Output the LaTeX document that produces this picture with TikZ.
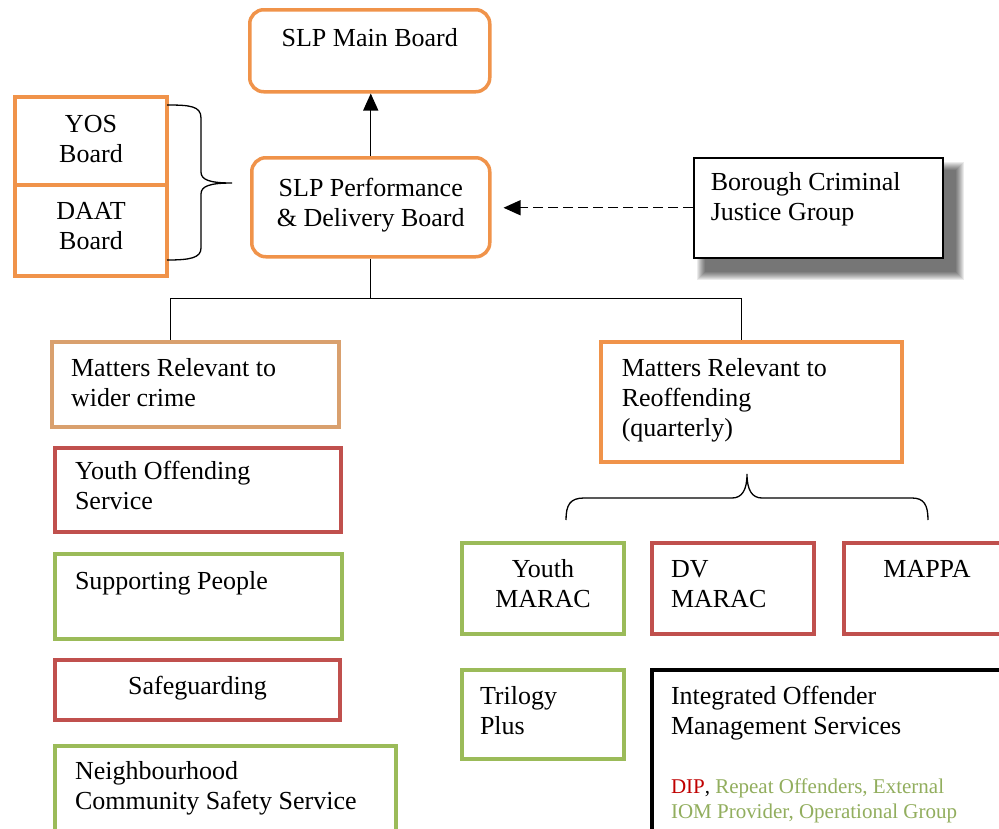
\documentclass[tikz,border=0pt]{standalone}
\usepackage{fontspec}
\setmainfont{Liberation Serif}
\usetikzlibrary{arrows.meta,backgrounds}

\definecolor{slporange}{HTML}{F0934A}
\definecolor{widertan}{HTML}{D9A06E}
\definecolor{unitred}{HTML}{C0504D}
\definecolor{unitgreen}{HTML}{9BBB59}
\definecolor{dipred}{HTML}{C00000}
\definecolor{iomgreen}{HTML}{92AE5E}

% top aligned text inside a box of fixed size
\newcommand{\boxtext}[3]{\parbox[t][#2pt][t]{#1pt}{#3}}

\begin{document}
\begin{tikzpicture}[x=1pt, y=-1pt,
  every node/.style={font=\fontsize{26}{30}\selectfont, anchor=north west},
  board/.style={draw=slporange, line width=3.5pt, rounded corners=14pt, fill=white, inner xsep=10pt},
  unit/.style={draw=#1, line width=4pt, fill=white},
  link/.style={line width=1.3pt},
  arrowtip/.style={-{Triangle[length=17pt,width=15pt]}}]

  \useasboundingbox (0,0) rectangle (999,828);
  \clip (0,0) rectangle (999,828);

  % SLP boards
  \node[board, inner ysep=16pt] (main) at (248,8) {\boxtext{220}{50}{\centering\strut SLP Main Board}};
  \node[board, inner ysep=18pt] (pdb) at (250,156) {\boxtext{218}{63}{\centering\strut SLP Performance\\ \& Delivery Board}};

  % Feeding boards
  \node[unit=slporange, inner xsep=10pt, inner ysep=14pt] (yos) at (13,95) {\boxtext{132}{60}{\centering\strut YOS\\Board}};
  \node[unit=slporange, inner xsep=10pt, inner ysep=13pt] (daat) at (13,183) {\boxtext{132}{65}{\centering\strut DAAT\\Board}};

  \node[draw=black, line width=1.5pt, fill=white, inner xsep=17pt, inner ysep=12pt] (bcjg) at (693,157)
    {\boxtext{215}{76}{\raggedright\strut Borough Criminal\\Justice Group}};

  % Wider crime column
  \node[unit=widertan, inner xsep=19pt, inner ysep=13pt] (mrc) at (50,340) {\boxtext{249}{59}{\raggedright\strut Matters Relevant to\\wider crime}};
  \node[unit=unitred, inner xsep=20pt, inner ysep=10pt] (yosvc) at (53,446) {\boxtext{246}{64}{\raggedright\strut Youth Offending\\Service}};
  \node[unit=unitgreen, inner xsep=20pt, inner ysep=14pt] (supp) at (53,552) {\boxtext{247}{57}{\raggedright\strut Supporting People}};
  \node[unit=unitred, inner xsep=10pt, inner ysep=13pt] (safe) at (53,658) {\boxtext{265}{34}{\centering\strut Safeguarding}};
  \node[unit=unitgreen, inner xsep=20pt, inner ysep=12pt] (nbh) at (53,744) {\boxtext{301}{76}{\raggedright\strut Neighbourhood\\Community Safety Service}};

  % Reoffending column
  \node[unit=slporange, line width=3.5pt, inner xsep=21pt, inner ysep=14pt] (mrr) at (599,340) {\boxtext{259}{92}{\raggedright\strut Matters Relevant to\\Reoffending\\(quarterly)}};
  \node[unit=unitgreen, inner xsep=10pt, inner ysep=13pt] (ymarac) at (460,541) {\boxtext{142}{65}{\centering\strut Youth\\MARAC}};
  \node[unit=unitred, inner xsep=19pt, inner ysep=13pt] (dvmarac) at (650,541) {\boxtext{124}{65}{\raggedright\strut DV\\MARAC}};
  \node[unit=unitred, inner xsep=10pt, inner ysep=13pt] (mappa) at (842,541) {\boxtext{146}{65}{\centering\strut MAPPA}};
  \node[unit=unitgreen, inner xsep=18pt, inner ysep=13pt] (trilogy) at (460,668) {\boxtext{126}{63}{\raggedright\strut Trilogy\\Plus}};
  \node[unit=black, inner xsep=19pt, inner ysep=13pt] (iom) at (650,668)
    {\boxtext{320}{146}{\raggedright\strut Integrated Offender\\Management Services\par\vspace{34pt}
     \fontsize{21}{25}\selectfont\textcolor{dipred}{DIP}, \textcolor{iomgreen}{Repeat Offenders, External\\IOM Provider, Operational Group}}};

  % Soft shadow behind the Borough group
  \begin{pgfonlayer}{background}
    \fill[white] (0,0) rectangle (999,828);
    \foreach \i in {0,...,8}
      \fill[black, opacity=0.08] ([shift={(4+\i,5+\i)}]bcjg.north west) rectangle ([shift={(20-\i,21-\i)}]bcjg.south east);
  \end{pgfonlayer}

  % Connectors
  \draw[link, arrowtip] (pdb.north) -- (pdb.north |- main.south);
  \draw[link, arrowtip, dash pattern=on 10pt off 5pt] (bcjg.west) -- ([xshift=12pt]pdb.east |- bcjg.west);
  \coordinate (split) at ([yshift=-40pt]pdb.south);
  \draw[link] (pdb.south) -- (split);
  \draw[link] (split) -| ([xshift=-25pt]mrc.north);
  \draw[link] (split) -| ([xshift=-10pt]mrr.north);

  % Braces
  \draw[link] (167,105) .. controls (190,105) and (201,106) .. (201,118) -- (201,172)
    .. controls (201,180) and (210,183) .. (232,183)
    .. controls (210,183) and (201,186) .. (201,194) -- (201,248)
    .. controls (201,258) and (190,260) .. (167,260);
  \draw[link] (566,520) .. controls (566,505) and (570,498) .. (584,498) -- (732,498)
    .. controls (742,498) and (747,490) .. (747,474)
    .. controls (747,490) and (752,498) .. (762,498) -- (912,498)
    .. controls (924,498) and (928,505) .. (928,520);
\end{tikzpicture}
\end{document}
